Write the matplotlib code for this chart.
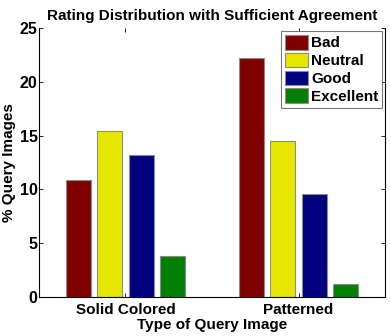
import numpy as np
import matplotlib.pyplot as plt

plt.rcParams['font.family'] = 'Liberation Sans'
plt.rcParams['font.weight'] = 'bold'

groups = ['Solid Colored', 'Patterned']
ratings = ['Bad', 'Neutral', 'Good', 'Excellent']
bad = [10.9, 22.2]
neutral = [15.4, 14.5]
good = [13.2, 9.55]
excellent = [3.85, 1.25]
colors = ['#800000', '#e6e600', '#000080', '#008000']

fig = plt.figure(figsize=(3.91, 3.36), dpi=100)
ax = fig.add_axes([0.0997, 0.1161, 0.885, 0.8006])

x = np.arange(1, len(groups) + 1)
offsets = [-0.27, -0.09, 0.09, 0.27]
for vals, off, c, lab in zip([bad, neutral, good, excellent], offsets, colors, ratings):
    ax.bar(x + off, vals, width=0.145, color=c, edgecolor='#8c8c8c', linewidth=0.8, label=lab)

ax.set_xlim(0.5, 2.5)
ax.set_ylim(0, 25)
ax.set_xticks(x)
ax.set_xticklabels(groups, fontsize=11, fontweight='bold')
ax.set_yticks(np.arange(0, 26, 5))
ax.tick_params(axis='y', labelsize=11.5, pad=1)
ax.tick_params(direction='in', top=True, right=True, length=3, width=0.6)
ax.tick_params(axis='x', pad=4)
ax.spines['top'].set_visible(False)
for s in ['left', 'bottom', 'right']:
    ax.spines[s].set_linewidth(0.8)

ax.set_title('Rating Distribution with Sufficient Agreement', fontsize=11, fontweight='bold', pad=6)
ax.set_xlabel('Type of Query Image', fontsize=11, fontweight='bold', labelpad=1)
ax.set_ylabel('% Query Images', fontsize=11, fontweight='bold')
ax.yaxis.set_label_coords(-0.065, 0.5)

leg = ax.legend(loc='upper right', fontsize=11, fancybox=False, edgecolor='#555555',
                handlelength=1.5, handleheight=1.1, handletextpad=0.2, borderpad=0.25,
                labelspacing=0.15, borderaxespad=0.2)
leg.get_frame().set_linewidth(0.8)

fig.savefig('out.png', dpi=100)
